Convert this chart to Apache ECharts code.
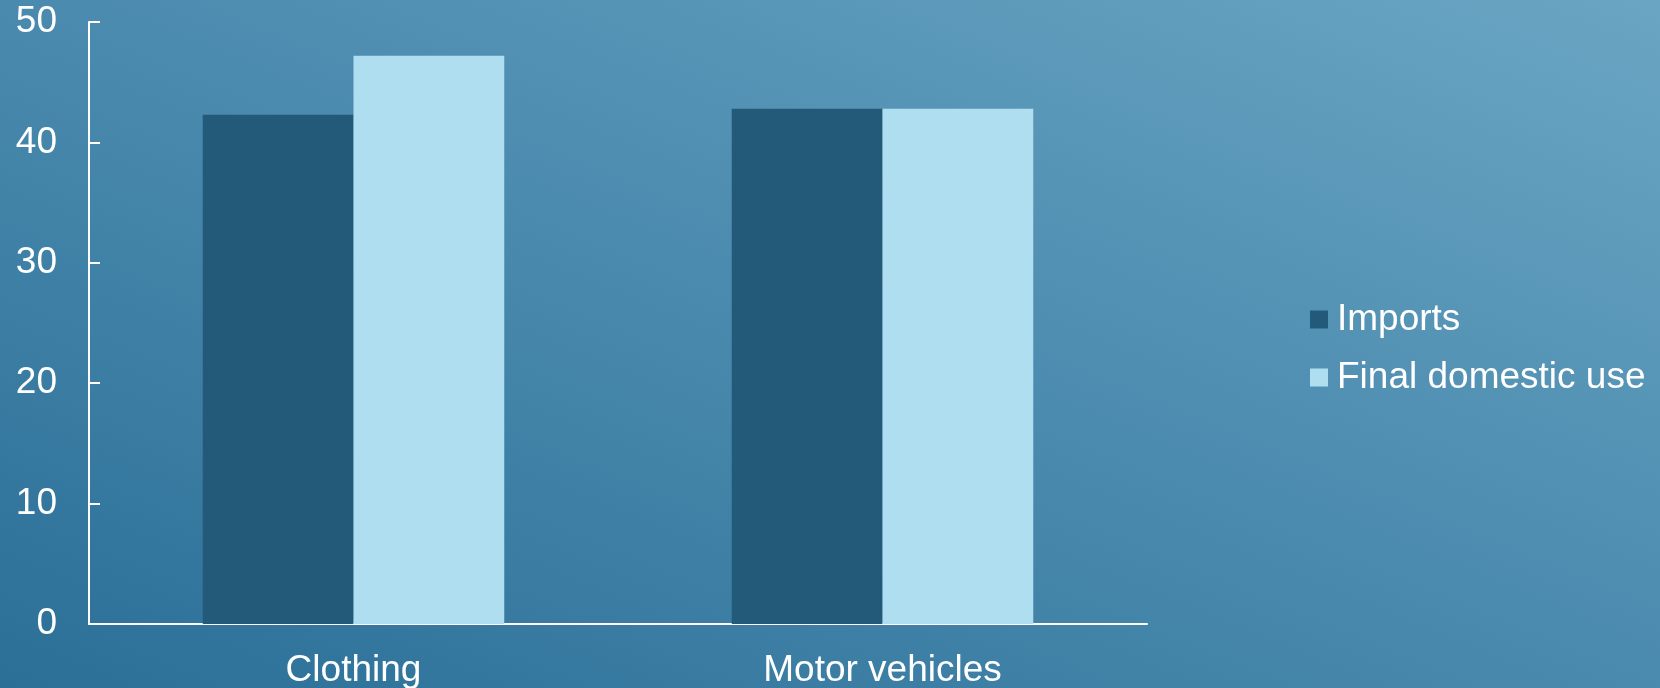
<!DOCTYPE html>
<html>
<head>
<meta charset="utf-8">
<script src="https://cdn.jsdelivr.net/npm/echarts@6/dist/echarts.min.js"></script>
<style>
html,body{margin:0;padding:0;width:1660px;height:688px;overflow:hidden;}
#c{width:1660px;height:688px;}
</style>
</head>
<body>
<div id="c"></div>
<script>
const categories = ['Clothing', 'Motor vehicles'];
const seriesNames = ['Imports', 'Final domestic use'];
const importsValues = [42.3, 42.8];
const finalUseValues = [47.2, 42.8];
const yTicks = [0, 10, 20, 30, 40, 50];

const chart = echarts.init(document.getElementById('c'), null, {renderer: 'canvas'});
const font = 'Liberation Sans, Arial, sans-serif';
chart.setOption({
  animation: false,
  backgroundColor: new echarts.graphic.LinearGradient(0, 688, 487, -486, [
    {offset: 0, color: '#2b6f97'},
    {offset: 0.5, color: '#4a8aae'},
    {offset: 1, color: '#6aa5c3'}
  ], true),
  grid: {left: 89, right: 513, top: 22, bottom: 64, containLabel: false, outerBoundsMode: 'none'},
  legend: {
    orient: 'vertical',
    left: 1305,
    top: 296,
    itemWidth: 18,
    itemHeight: 18,
    itemGap: 21,
    icon: 'rect',
    textStyle: {color: '#ffffff', fontSize: 37, fontFamily: font, padding: [0, 0, 0, 4]},
    data: seriesNames
  },
  xAxis: {
    type: 'category',
    data: categories,
    axisLine: {show: true, lineStyle: {color: '#ffffff', width: 2}},
    axisTick: {show: false},
    axisLabel: {color: '#ffffff', fontSize: 37, fontFamily: font, margin: 28}
  },
  yAxis: {
    type: 'value',
    min: yTicks[0],
    max: yTicks[yTicks.length - 1],
    interval: 10,
    axisLine: {show: true, lineStyle: {color: '#ffffff', width: 2}},
    axisTick: {show: true, inside: true, length: 11, lineStyle: {color: '#ffffff', width: 2}},
    splitLine: {show: false},
    axisLabel: {color: '#ffffff', fontSize: 37, fontFamily: font, margin: 32}
  },
  series: [
    {
      name: seriesNames[0],
      type: 'bar',
      data: importsValues,
      itemStyle: {color: '#235a7a'},
      barGap: '0%',
      barCategoryGap: '43%'
    },
    {
      name: seriesNames[1],
      type: 'bar',
      data: finalUseValues,
      itemStyle: {color: '#afdef0'},
      barGap: '0%',
      barCategoryGap: '43%'
    }
  ]
});
</script>
</body>
</html>
